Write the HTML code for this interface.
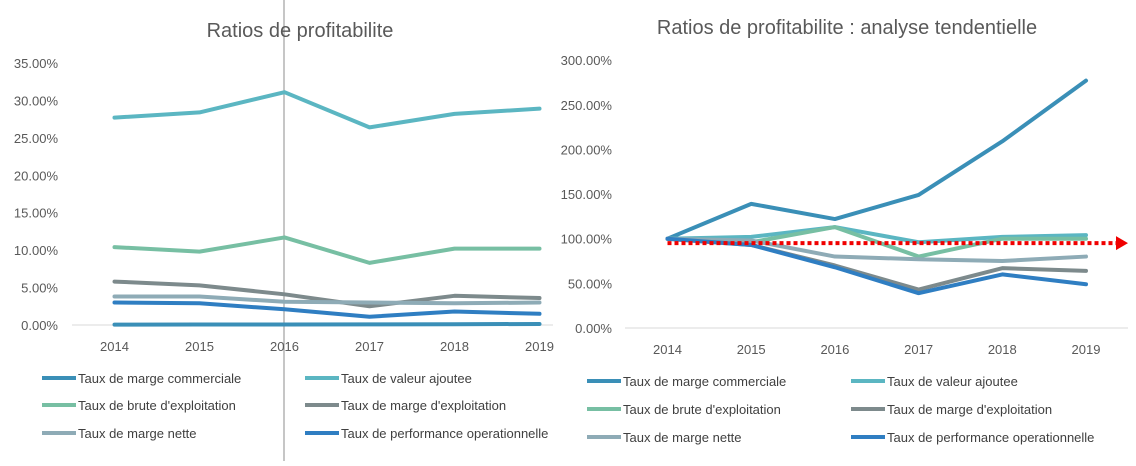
<!DOCTYPE html>
<html><head><meta charset="utf-8"><style>
body{margin:0;background:#fff;width:1136px;height:461px;overflow:hidden;font-family:"Liberation Sans",sans-serif}
svg text{font-family:"Liberation Sans",sans-serif}
</style></head><body>
<svg id="s" width="1136" height="461">
<line x1="284" y1="0" x2="284" y2="461" stroke="#8c8c8c" stroke-width="1"/>
<text x="300" y="37" text-anchor="middle" font-size="20" fill="#595959">Ratios de profitabilite</text>
<text x="847" y="34" text-anchor="middle" font-size="20" fill="#595959">Ratios de profitabilite : analyse tendentielle</text>
<g id="L"></g><g id="R"></g>
</svg>
<script>
const years=["2014","2015","2016","2017","2018","2019"];
const seriesNames=["Taux de marge commerciale","Taux de valeur ajoutee","Taux de brute d'exploitation","Taux de marge d'exploitation","Taux de marge nette","Taux de performance operationnelle"];
const colors=["#3a8fb7","#5bb6c2","#77bfa3","#7d8a8c","#8eabb6","#2f7ec2"];
const leftCommerciale=[0.05,0.07,0.06,0.08,0.1,0.14];
const leftValeur=[27.7,28.4,31.1,26.4,28.2,28.9];
const leftBrute=[10.4,9.8,11.7,8.3,10.2,10.2];
const leftExploit=[5.8,5.3,4.1,2.5,3.9,3.6];
const leftNette=[3.8,3.8,3.1,3.0,2.9,3.0];
const leftPerf=[3.0,2.9,2.1,1.1,1.8,1.5];
const leftTicks=[0,5,10,15,20,25,30,35];
const rightCommerciale=[100,139,122,149,209,277];
const rightValeur=[100,102,113,96,102,104];
const rightBrute=[100,96,113,80,100,100];
const rightExploit=[100,93,70,43,67,64];
const rightNette=[100,98,80,77,75,80];
const rightPerf=[100,93,68,39,60,49];
const rightTicks=[0,50,100,150,200,250,300];
const trendLevel=95;
const NS="http://www.w3.org/2000/svg";
function mk(tag,attrs,parent){const e=document.createElementNS(NS,tag);for(const k in attrs)e.setAttribute(k,attrs[k]);parent.appendChild(e);return e;}
function chart(g,cfg){
  const xs=i=>cfg.x0+i*cfg.dx, ys=v=>cfg.y0-(v-0)*cfg.ky;
  const base=mk('line',{x1:cfg.ax0,x2:cfg.ax1,y1:cfg.y0,y2:cfg.y0,stroke:'#d9d9d9','stroke-width':1},g);
  
  
  cfg.ticks.forEach(t=>{const e=mk('text',{x:cfg.tx,y:ys(t)+5,'text-anchor':'end','font-size':13,fill:'#595959'},g);e.textContent=t.toFixed(2)+'%';
    
    });
  years.forEach((y,i)=>{const e=mk('text',{x:xs(i),y:cfg.y0+26,'text-anchor':'middle','font-size':13,fill:'#595959'},g);e.textContent=y;
    
    });
  cfg.series.forEach((s,k)=>{const pts=s.map((v,i)=>xs(i)+','+ys(v)).join(' ');
    const pl=mk('polyline',{points:pts,fill:'none',stroke:colors[k],'stroke-width':4,'stroke-linejoin':'round','stroke-linecap':'round'},g);
    
    });
  if(cfg.trend){const y=ys(trendLevel);
    const l=mk('line',{x1:xs(0),x2:cfg.ax1-12,y1:y,y2:y,stroke:'#f00000','stroke-width':4,'stroke-dasharray':'4 3'},g);
    
    
    const a=mk('polygon',{points:(cfg.ax1-12)+','+(y-7)+' '+(cfg.ax1)+','+y+' '+(cfg.ax1-12)+','+(y+7),fill:'#f00000'},g);
    
    }
  seriesNames.forEach((n,k)=>{const c=k%2,r=Math.floor(k/2);const lx=cfg.lx[c],ly=cfg.ly[r];
    const l=mk('line',{x1:lx,x2:lx+34,y1:ly,y2:ly,stroke:colors[k],'stroke-width':4},g);
    
    
    const t=mk('text',{x:lx+36,y:ly+5,'font-size':13,fill:'#404040',textLength:cfg.tl?undefined:null},g);t.removeAttribute('textLength');t.textContent=n;
    
    
    if(cfg.clip && c==1){t.setAttribute('clip-path','url(#clipL)');}});
}
const defs=mk('defs',{},document.getElementById('s'));const cp=mk('clipPath',{id:'clipL'},defs);mk('rect',{x:0,y:0,width:550,height:461},cp);
chart(document.getElementById('L'),{p:'left',x0:114.5,dx:85,y0:325,ky:7.486,ax0:72,ax1:553,tx:58,ticks:leftTicks,
  series:[leftCommerciale,leftValeur,leftBrute,leftExploit,leftNette,leftPerf],lx:[42,305],ly:[378,405,433],clip:true});
chart(document.getElementById('R'),{p:'right',x0:667.5,dx:83.7,y0:328,ky:0.893,ax0:625,ax1:1128,tx:612,ticks:rightTicks,
  series:[rightCommerciale,rightValeur,rightBrute,rightExploit,rightNette,rightPerf],lx:[587,851],ly:[381,409,437],trend:true});
</script>
</body></html>
